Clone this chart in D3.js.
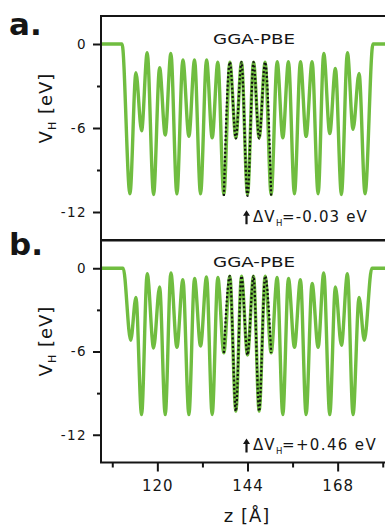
<!DOCTYPE html>
<html><head><meta charset="utf-8">
<script src="https://cdn.jsdelivr.net/npm/d3@7"></script>
<style>
body{margin:0;background:#fff;-webkit-font-smoothing:antialiased}
svg{display:block}
text,tspan{font-family:"DejaVu Sans",sans-serif;fill:#151515}
</style></head><body>
<svg id="c" width="385" height="526"></svg>
<script>
// ---- data (z in Å, V_H in eV) ----
const zA=[105,110.6,112.7,114.3,115.8,117.3,119.0,120.6,122.1,123.6,125.2,126.8,128.4,129.9,131.5,133.1,134.6,136.1,137.7,139.3,140.9,142.4,144.0,145.6,147.1,148.7,150.3,151.9,153.4,154.9,156.5,158.1,159.6,161.2,162.8,164.3,165.9,167.4,169.0,170.6,172.1,173.7,175.3,177.4,183];
const vA=[0,0,-10.7,-2.05,-6.2,-0.62,-10.75,-1.7,-6.5,-0.67,-10.7,-1.14,-6.6,-1.14,-10.7,-1.14,-6.7,-1.3,-10.75,-1.3,-6.7,-1.3,-10.75,-1.3,-6.7,-1.3,-10.75,-1.26,-6.7,-1.26,-10.7,-1.26,-6.6,-1.26,-10.7,-0.67,-6.4,-1.74,-10.75,-0.62,-6.1,-2.1,-10.7,0,0];
const zDotA=[137.7,139.3,140.9,142.4,144.0,145.6,147.1,148.7,150.3];
const vDotA=[-10.85,-1.3,-6.75,-1.3,-10.85,-1.3,-6.75,-1.3,-10.85];

const zB=[105,110.9,112.9,114.3,115.8,117.3,119.0,120.6,122.1,123.6,125.2,126.8,128.4,129.9,131.5,133.1,134.6,136.1,137.7,139.3,140.9,142.4,144.0,145.6,147.1,148.7,150.3,151.9,153.4,154.9,156.5,158.1,159.6,161.2,162.8,164.3,165.9,167.4,169.0,170.6,172.1,173.7,175.1,177.1,183];
const vB=[0,0,-5.2,-2.1,-10.55,-0.4,-5.75,-1.34,-10.55,-0.33,-5.7,-0.82,-10.55,-0.74,-5.6,-0.62,-10.55,-0.67,-6.1,-0.57,-10.3,-0.57,-6.25,-0.57,-10.3,-0.57,-6.1,-0.67,-10.55,-0.74,-5.7,-0.82,-10.55,-1.1,-5.7,-0.33,-10.55,-1.34,-5.55,-0.4,-10.55,-2.1,-5.2,0,0];
const zDotB=[137.7,139.3,140.9,142.4,144.0,145.6,147.1,148.7,150.3];
const vDotB=[-6.1,-0.57,-10.3,-0.57,-6.25,-0.57,-10.3,-0.57,-6.1];

const xTicksMajor=[120,144,168];
const xTicksMinor=[108,132,156,180];
const yTicksMajor=[0,-6,-12];
const yTicksMinor=[-3,-9];
const panelLetters=["a.","b."];
const methodLabels=["GGA-PBE","GGA-PBE"];
const deltaValues=["-0.03","+0.46"];

// ---- layout ----
const svg=d3.select("#c");
const L=101,R=394;
const ink="#151515";
const x=d3.scaleLinear().domain([105,183]).range([L,R]);
const green="#70bd40";

const panels=[
  {top:16,bottom:240,z:zA,v:vA,dz:zDotA,dv:vDotA,letterY:35,titleY:43.5,annY:221.7,annW:115,labC:108},
  {top:240.5,bottom:462.5,z:zB,v:vB,dz:zDotB,dv:vDotB,letterY:255,titleY:266.7,annY:450,annW:124,labC:341}
];

panels.forEach((p,i)=>{
  const y=d3.scaleLinear().domain([-14,2]).range([p.bottom,p.top]);
  const g=svg.append("g");
  const cid="clip"+i;
  svg.append("clipPath").attr("id",cid).append("rect")
    .attr("x",L).attr("y",p.top).attr("width",R-L).attr("height",p.bottom-p.top);
  const line=d3.line().x(d=>x(d[0])).y(d=>y(d[1])).curve(d3.curveMonotoneX);
  const main=p.z.map((z,k)=>[z,p.v[k]]);
  const dot=p.dz.map((z,k)=>[z,p.dv[k]]);
  const cg=g.append("g").attr("clip-path",`url(#${cid})`);
  cg.append("path").attr("d",line(main)).attr("fill","none")
    .attr("stroke",green).attr("stroke-width",3.4).attr("stroke-linejoin","round");
  cg.append("path").attr("d",line(dot)).attr("fill","none")
    .attr("stroke","#111").attr("stroke-width",2.2).attr("stroke-dasharray","2,2.2");

  // frame
  g.append("rect").attr("x",L).attr("y",p.top).attr("width",R-L).attr("height",p.bottom-p.top)
    .attr("fill","none").attr("stroke",ink).attr("stroke-width",2);

  // y axis
  const ya=g.append("g").attr("transform",`translate(${L},0)`)
    .call(d3.axisLeft(y).tickValues(yTicksMajor).tickSize(8).tickPadding(6).tickFormat(d=>String(d)));
  ya.select(".domain").remove();
  ya.selectAll("line").attr("stroke",ink).attr("stroke-width",2);
  ya.selectAll("text").attr("font-size",13.5).attr("fill",ink)
    .style("font-family","DejaVu Sans").style("letter-spacing","1.4px");
  const ym=g.append("g").attr("transform",`translate(${L},0)`)
    .call(d3.axisLeft(y).tickValues(yTicksMinor).tickSize(4).tickFormat(""));
  ym.select(".domain").remove();
  ym.selectAll("line").attr("stroke",ink).attr("stroke-width",2);

  // y label
  const yl=g.append("text").attr("transform",`translate(52,${p.labC}) rotate(-90)`)
    .attr("text-anchor","middle").attr("font-size",18).attr("fill",ink).style("letter-spacing","1px");
  yl.append("tspan").text("V").attr("fill",ink);
  yl.append("tspan").text("H").attr("font-size",11).attr("dy",4).attr("fill",ink);
  yl.append("tspan").text(" [eV]").attr("dy",-4).attr("fill",ink);

  // panel letter
  g.append("text").attr("x",9).attr("y",p.letterY).attr("font-size",31).attr("fill",ink)
    .attr("font-weight","bold").text(panelLetters[i]);

  // method title
  g.append("text").attr("x",213).attr("y",p.titleY).attr("font-size",14.5).attr("fill",ink)
    .attr("textLength",82).attr("lengthAdjust","spacingAndGlyphs").text(methodLabels[i]);

  // annotation arrow + delta text (three separate pieces)
  const ax=246.5, ab=p.annY;
  g.append("path").attr("d",`M${ax-1.1},${ab+2.5} L${ax-1.1},${ab-6} L${ax-3.5},${ab-6} L${ax},${ab-11.5} L${ax+3.5},${ab-6} L${ax+1.1},${ab-6} L${ax+1.1},${ab+2.5} Z`)
    .attr("fill",ink);
  const t1=g.append("text").attr("x",253).attr("y",ab).attr("font-size",15).attr("fill",ink)
    .style("letter-spacing","1px").text("ΔV");
  const w1=t1.node().getComputedTextLength();
  const t2=g.append("text").attr("x",Math.round(253+w1)).attr("y",ab+4).attr("font-size",8.5)
    .attr("fill","#333").text("H");
  const w2=t2.node().getComputedTextLength();
  const t3=g.append("text").attr("x",Math.round(253+w1+w2)).attr("y",ab).attr("font-size",15)
    .attr("fill",ink).text("="+deltaValues[i]+" eV");
  const w3=t3.node().getComputedTextLength();
  const rest=p.annW-(Math.round(w1+w2));
  const n3=t3.text().length;
  t3.style("letter-spacing",((rest-w3)/n3).toFixed(2)+"px");
});

// x axis (bottom of panel b)
const bottom=462.5;
const xa=svg.append("g").attr("transform",`translate(0,${bottom})`)
  .call(d3.axisBottom(x).tickValues(xTicksMajor).tickSize(9).tickPadding(9));
xa.select(".domain").remove();
xa.selectAll("line").attr("stroke",ink).attr("stroke-width",2);
xa.selectAll("text").attr("font-size",15).attr("fill",ink)
  .style("font-family","DejaVu Sans").style("letter-spacing","1px");
const xm=svg.append("g").attr("transform",`translate(0,${bottom})`)
  .call(d3.axisBottom(x).tickValues(xTicksMinor).tickSize(5).tickFormat(""));
xm.select(".domain").remove();
xm.selectAll("line").attr("stroke",ink).attr("stroke-width",2);

svg.append("text").attr("x",247).attr("y",522).attr("text-anchor","middle").attr("fill",ink)
  .attr("font-size",18).style("letter-spacing","1px").text("z [Å]");
</script>
</body></html>
